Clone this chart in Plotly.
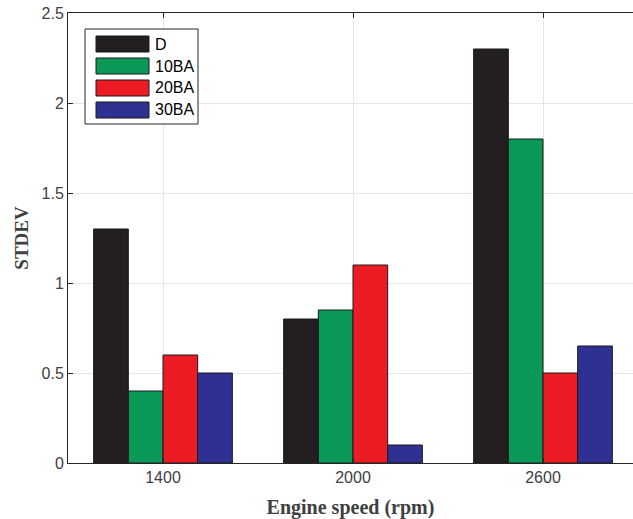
import plotly.graph_objects as go

# Engine speed categories and STDEV values per fuel blend
speeds = ["1400", "2000", "2600"]
series_names = ["D", "10BA", "20BA", "30BA"]
d_vals = [1.3, 0.8, 2.3]
ba10_vals = [0.4, 0.85, 1.8]
ba20_vals = [0.6, 1.1, 0.5]
ba30_vals = [0.5, 0.1, 0.65]
y_ticks = [0, 0.5, 1, 1.5, 2, 2.5]

colors = ["#231f20", "#0a9956", "#ed1c24", "#2e3192"]
values = [d_vals, ba10_vals, ba20_vals, ba30_vals]

W, H = 633, 519
L, R, T, B = 68, 633, 13, 463  # plot area in pixels

fig = go.Figure()
for name, vals, col in zip(series_names, values, colors):
    fig.add_trace(go.Bar(
        x=speeds, y=vals, name=name,
        marker=dict(color=col, line=dict(color="#1a1a1a", width=1)),
        showlegend=False,
    ))

axis_col = "#262626"
tick_font = dict(family="Liberation Sans, Arial", size=16, color="#404040")

fig.update_layout(
    width=W, height=H,
    margin=dict(l=L, r=W - R, t=T, b=H - B),
    paper_bgcolor="white", plot_bgcolor="white",
    barmode="group", bargap=0.27, bargroupgap=0,
    xaxis=dict(
        type="category", range=[-0.5, 2.5 - 5 / 190],
        showline=True, linecolor=axis_col, linewidth=1, mirror="ticks",
        ticks="inside", ticklen=5, tickcolor=axis_col,
        showgrid=True, gridcolor="#e6e6e6", gridwidth=1,
        tickfont=tick_font,
        title=dict(text="<b>Engine speed (rpm)</b>", standoff=14,
                   font=dict(family="Liberation Serif, Times New Roman", size=20, color="#404040")),
    ),
    yaxis=dict(
        range=[0, 2.5], tickvals=y_ticks, ticktext=[f"{v:g}" for v in y_ticks],
        showline=True, linecolor=axis_col, linewidth=1, mirror=False,
        ticks="inside", ticklen=5, tickcolor=axis_col,
        showgrid=True, gridcolor="#e6e6e6", gridwidth=1, zeroline=False,
        tickfont=tick_font,
        title=dict(text="<b>STDEV</b>", standoff=7,
                   font=dict(family="Liberation Serif, Times New Roman", size=19, color="#404040")),
    ),
)

# Legend drawn as a boxed list with wide colour swatches
def px_x(x):
    return (x - L) / (R - L)

def px_y(y):
    return (B - y) / (B - T)

shapes = [dict(type="rect", xref="paper", yref="paper",
               x0=px_x(85), x1=px_x(198), y0=px_y(124), y1=px_y(29),
               line=dict(color="#262626", width=1), fillcolor="white", layer="above")]
annotations = []
for i, (name, col) in enumerate(zip(series_names, colors)):
    top = 36 + i * 22
    shapes.append(dict(type="rect", xref="paper", yref="paper",
                       x0=px_x(96), x1=px_x(149), y0=px_y(top + 16), y1=px_y(top),
                       line=dict(color="#1a1a1a", width=1), fillcolor=col, layer="above"))
    annotations.append(dict(xref="paper", yref="paper", x=px_x(153), y=px_y(top + 8),
                            text=name, showarrow=False, xanchor="left", yanchor="middle",
                            font=dict(family="Liberation Sans, Arial", size=16, color="#000000")))

fig.update_layout(shapes=shapes, annotations=annotations)
fig.write_html("out.html")
